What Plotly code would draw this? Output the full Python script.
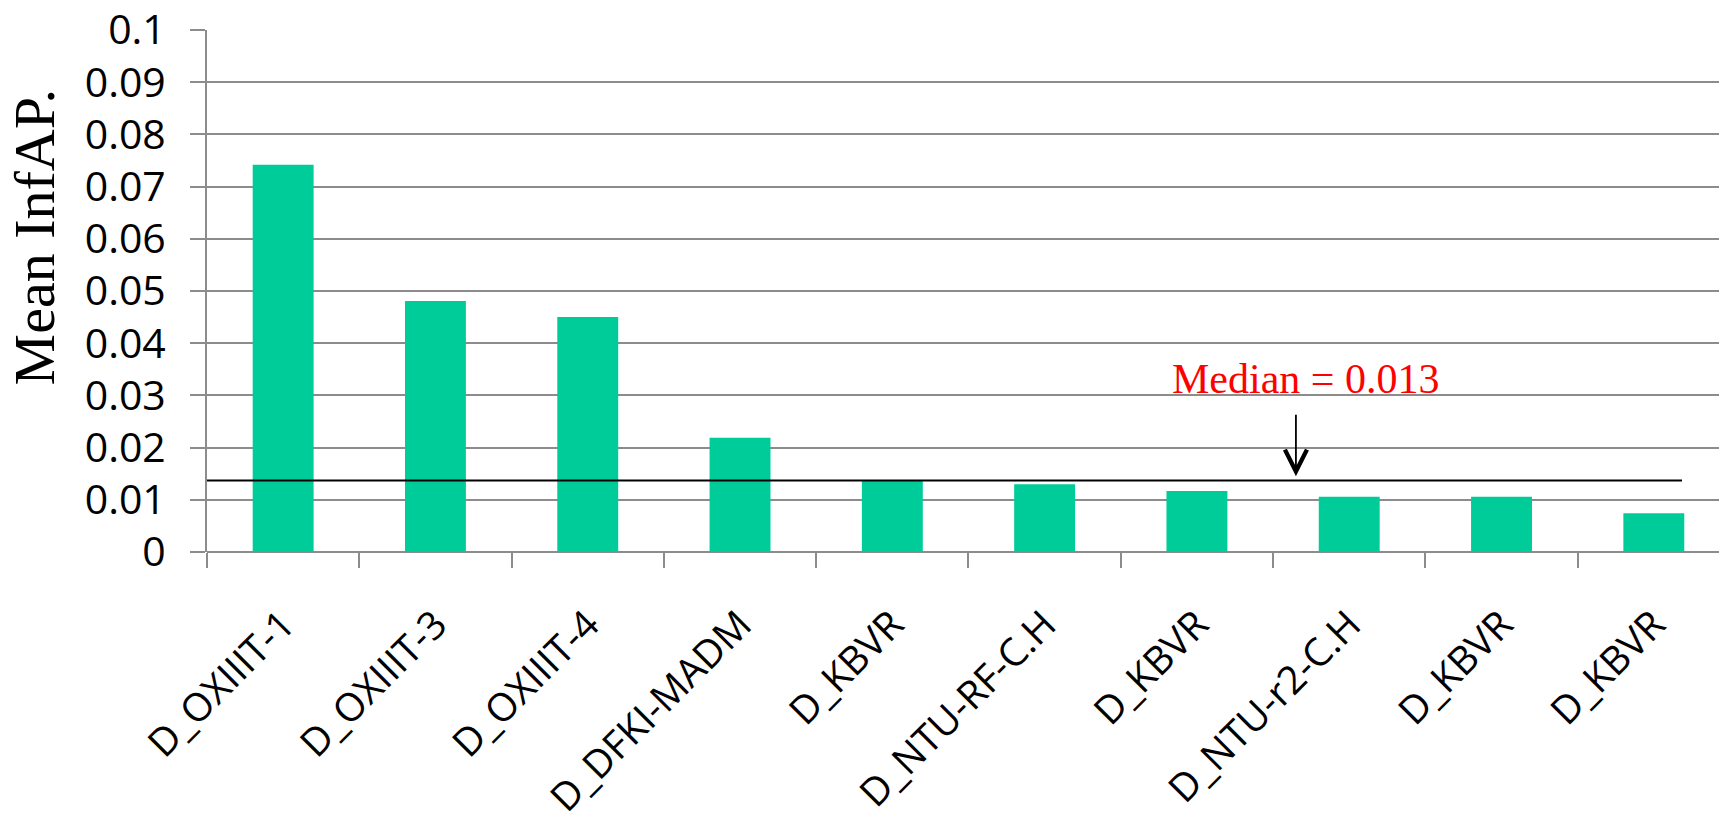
import plotly.graph_objects as go

categories = ["D_OXIIIT-1", "D_OXIIIT-3", "D_OXIIIT-4", "D_DFKI-MADM", "D_KBVR",
              "D_NTU-RF-C.H", "D_KBVR", "D_NTU-r2-C.H", "D_KBVR", "D_KBVR"]
mean_infap = [0.0742, 0.0481, 0.0450, 0.0219, 0.0137, 0.0130, 0.0117, 0.0106, 0.0106, 0.0074]
median_value = 0.0137
median_label = "Median = 0.013"
y_title = "Mean InfAP."
y_ticks = [0, 0.01, 0.02, 0.03, 0.04, 0.05, 0.06, 0.07, 0.08, 0.09, 0.1]
y_tick_text = ["0", "0.01", "0.02", "0.03", "0.04", "0.05", "0.06", "0.07", "0.08", "0.09", "0.1"]

x_idx = list(range(len(categories)))
GRID = "#8c8c8c"

fig = go.Figure()
fig.add_trace(go.Bar(
    x=x_idx, y=mean_infap, width=0.4,
    marker=dict(color="#00CC99", line=dict(width=0)),
    showlegend=False,
))

# median line
fig.add_shape(type="line", xref="x", yref="y", x0=-0.5, x1=9.185,
              y0=median_value, y1=median_value,
              line=dict(color="black", width=2), layer="above")

# arrow pointing to the median line
fig.add_annotation(x=6.65, y=median_value + 0.0008, ax=6.65, ay=median_value + 0.0129,
                   xref="x", yref="y", axref="x", ayref="y", text="",
                   showarrow=True, arrowhead=5, arrowsize=2.4, arrowwidth=1.8,
                   arrowcolor="black")
# median text
fig.add_annotation(x=6.716, y=median_value + 0.0194, xref="x", yref="y",
                   text=median_label, showarrow=False,
                   font=dict(family="Liberation Serif", size=42, color="red"))

# y-axis title (placed above centre, as in the original)
fig.add_annotation(x=-0.114, y=0.602, xref="paper", yref="paper",
                   xanchor="center", yanchor="middle", textangle=-90,
                   text=y_title, showarrow=False,
                   font=dict(family="Liberation Serif", size=58, color="black"))

fig.update_layout(
    width=1719, height=836,
    margin=dict(l=207, r=0, t=30, b=284),
    plot_bgcolor="white", paper_bgcolor="white",
)
fig.update_xaxes(
    range=[-0.5, 9.428],
    tickmode="array", tickvals=x_idx, ticktext=categories,
    tickangle=-45,
    ticks="outside", ticklen=15, tickwidth=2, tickcolor="rgba(0,0,0,0)",
    ticklabelstandoff=18,
    minor=dict(tick0=-0.5, dtick=1, ticks="outside", ticklen=15, tickwidth=2,
               tickcolor=GRID, showgrid=False),
    showgrid=False, showline=False, zeroline=False,
    tickfont=dict(family="Open Sans", size=39, color="black"),
)
fig.update_yaxes(
    range=[0, 0.1],
    tickmode="array", tickvals=y_ticks, ticktext=y_tick_text,
    ticks="outside", ticklen=15, tickwidth=2, tickcolor=GRID,
    showgrid=True, gridcolor=GRID, gridwidth=2,
    showline=True, linecolor=GRID, linewidth=2,
    zeroline=True, zerolinecolor=GRID, zerolinewidth=2,
    ticklabelstandoff=16,
    tickfont=dict(family="Open Sans", size=41, color="black"),
)

fig.write_html("out.html")
